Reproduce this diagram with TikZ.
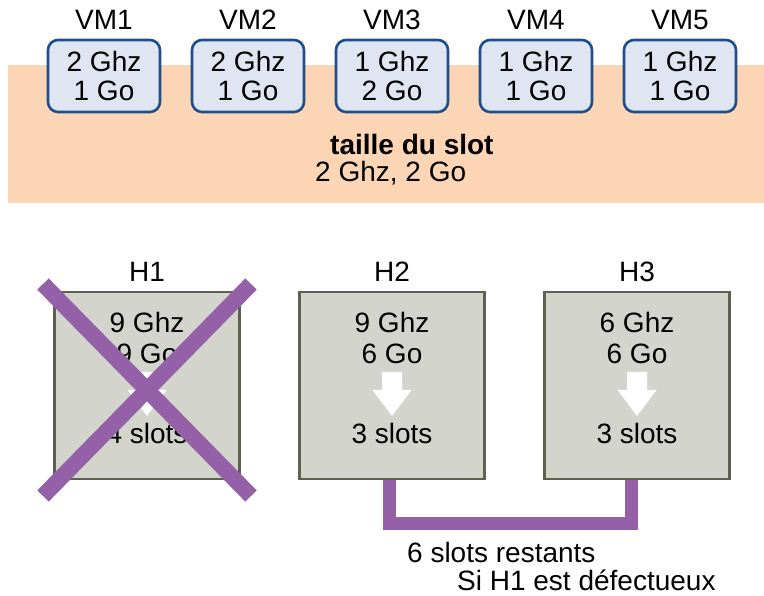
\documentclass[tikz,border=0pt]{standalone}
\usepackage{fontspec}
\setmainfont{Liberation Sans}
\definecolor{peach}{HTML}{FCD5B4}
\definecolor{vmfill}{HTML}{DFE6F2}
\definecolor{vmline}{HTML}{1F4F8A}
\definecolor{hostfill}{HTML}{D3D4CB}
\definecolor{hostline}{HTML}{5F6150}
\definecolor{purp}{HTML}{9461A8}
\begin{document}
\begin{tikzpicture}[x=1pt,y=-1pt,
  every node/.style={font=\fontsize{28}{29}\selectfont, inner sep=0pt},
  vmbox/.style={draw=vmline, fill=vmfill, line width=2.6pt, rounded corners=10pt,
    minimum width=112pt, minimum height=72pt, align=center},
  hostbox/.style={draw=hostline, fill=hostfill, line width=2.6pt,
    minimum width=185pt, minimum height=187pt},
  lbl/.style={anchor=base},
  lblw/.style={anchor=base west},
  bigarrow/.style={fill=white, draw=none},
  cross/.style={draw=purp, line width=16pt, line cap=butt},
  link/.style={draw=purp, line width=13pt, line join=miter}]
\useasboundingbox (0,0) rectangle (764,596);
% slot band
\fill[peach] (8,65) rectangle (764,203);
% VMs
\foreach \n/\x/\g/\m in {1/104/2/1, 2/248/2/1, 3/392/1/2, 4/536/1/1, 5/680/1/1}{
  \node[lbl] (vml\n) at (\x,30) {VM\n};
  \node[vmbox] (vm\n) at (\x,76) {\g\ Ghz\\ \m\ Go};
}
\node[lblw, font=\fontsize{28}{29}\selectfont\bfseries] (slot) at (330,155) {taille du slot};
\node[lblw] (slotval) at (315,182) {2 Ghz, 2 Go};
% hosts
\foreach \n/\x/\g/\m/\s in {1/147/9/9/4, 2/392/9/6/3, 3/637/6/6/3}{
  \node[hostbox] (h\n) at (\x,385.5) {};
  \node[lbl] (hl\n) at (\x,282) {H\n};
  \node[lbl] (hg\n) at (\x,333) {\g\ Ghz};
  \node[lbl] (hm\n) at (\x,363) {\m\ Go};
  \fill[bigarrow] (\x-10,372) -- (\x+10,372) -- (\x+10,390) -- (\x+19.5,390)
     -- (\x,416) -- (\x-19.5,390) -- (\x-10,390) -- cycle;
  \node[lbl] (hs\n) at (\x,443) {\s\ slots};
}
% cross over H1
\coordinate (xa) at (43,284);
\coordinate (xb) at (251,496);
\coordinate (xc) at (251,284);
\coordinate (xd) at (43,496);
\draw[cross] (xa) -- (xb);
\draw[cross] (xc) -- (xd);
% link H2-H3
\draw[link] ([xshift=-2.5pt]h2.south) -- ++(0,43) -| ([xshift=-5.5pt]h3.south);
\node[lblw] (rest) at (407,562) {6 slots restants};
\node[lblw] (si) at (457,590) {Si H1 est défectueux};
\end{tikzpicture}
\end{document}
